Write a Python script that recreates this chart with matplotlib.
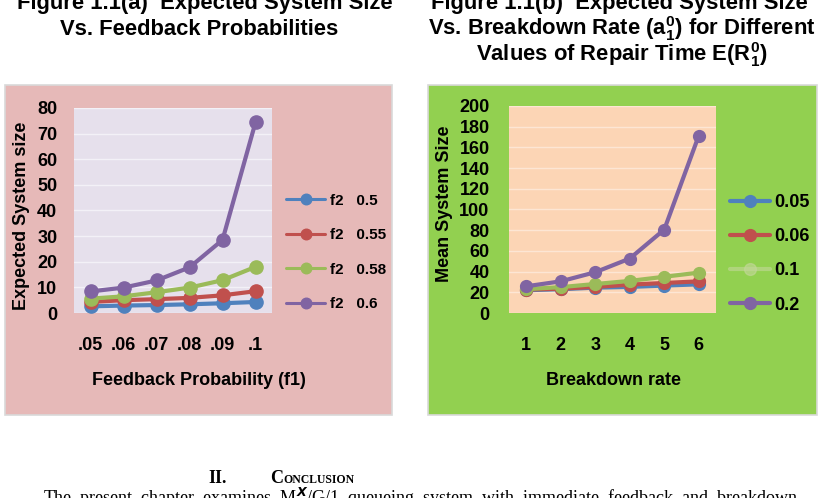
import matplotlib
matplotlib.use("Agg")
import matplotlib.pyplot as plt
from matplotlib.patches import Rectangle

plt.rcParams['font.family'] = ['Liberation Sans', 'DejaVu Sans']
plt.rcParams['font.weight'] = 'bold'
plt.rcParams['mathtext.fontset'] = 'custom'
plt.rcParams['mathtext.rm'] = 'Liberation Sans:bold'
plt.rcParams['mathtext.bf'] = 'Liberation Sans:bold'

# Figure 1.1(a) data
f1_labels = ['.05', '.06', '.07', '.08', '.09', '.1']
f2_names = ['f2   0.5', 'f2   0.55', 'f2   0.58', 'f2   0.6']
size_f2_05 = [2.6, 2.9, 3.1, 3.4, 3.8, 4.3]
size_f2_055 = [4.3, 5.0, 5.4, 5.9, 6.9, 8.5]
size_f2_058 = [5.6, 6.5, 8.1, 9.9, 12.8, 18.0]
size_f2_06 = [8.4, 9.9, 12.7, 17.8, 28.5, 74.4]

# Figure 1.1(b) data
rate_labels = ['1', '2', '3', '4', '5', '6']
repair_names = ['0.05', '0.06', '0.1', '0.2']
mean_r005 = [22.0, 23.0, 24.5, 25.2, 26.5, 27.7]
mean_r006 = [22.6, 23.5, 25.2, 27.4, 29.0, 30.6]
mean_r01 = [23.0, 25.0, 28.0, 31.0, 35.0, 39.0]
mean_r02 = [25.8, 30.6, 39.4, 52.6, 80.6, 171.3]

colors = ['#4F81BD', '#C0504D', '#9BBB59', '#8064A2']

W, H = 821, 498
fig = plt.figure(figsize=(W / 100, H / 100), dpi=100, facecolor='white')


def box(x0, y0, x1, y1):
    # pixel box (top-left origin) -> figure fraction rect
    return [x0 / W, 1 - y1 / H, (x1 - x0) / W, (y1 - y0) / H]


def panel(x0, y0, x1, y1, color):
    r = box(x0, y0, x1, y1)
    fig.patches.append(Rectangle((r[0], r[1]), r[2], r[3], transform=fig.transFigure,
                                 facecolor=color, edgecolor='#D9D9D9', lw=1.2, zorder=-5))


def txt(x, y, s, **kw):
    fig.text(x / W, 1 - y / H, s, **kw)


panel(5, 85, 392, 415, '#E6B9B8')
panel(428, 85, 817, 415, '#92D050')

# ---- left chart
ax1 = fig.add_axes(box(74, 108, 272, 313))
ax1.set_facecolor('#E6E0EC')
xs = range(len(f1_labels))
for vals, c, name in zip([size_f2_05, size_f2_055, size_f2_058, size_f2_06], colors, f2_names):
    ax1.plot(xs, vals, color=c, lw=3, marker='o', ms=9.5, label=name, solid_capstyle='round')
ax1.set_xlim(-0.5, 5.5)
ax1.set_ylim(0, 80)
ax1.set_yticks(range(0, 81, 10))
ax1.set_xticks(list(xs))
ax1.set_xticklabels(f1_labels)
ax1.tick_params(length=0, labelsize=13, pad=17)
ax1.tick_params(axis='y', pad=12)
ax1.yaxis.grid(True, color='#F3F1F7', lw=1)
ax1.set_axisbelow(True)
for s in ax1.spines.values():
    s.set_visible(False)
leg1 = ax1.legend(loc='center left', bbox_to_anchor=(1.0, 0.295), frameon=False,
                  fontsize=11, handlelength=2.6, labelspacing=1.35, handletextpad=0.3,
                  borderaxespad=0.5, markerscale=0.8)
for h in leg1.legend_handles:
    h.set_linewidth(2.2)

txt(21, 216, 'Expected System size', rotation=90, ha='center', va='center', fontsize=13)
txt(199, 380, 'Feedback Probability (f1)', ha='center', va='center', fontsize=13)

# ---- right chart
ax2 = fig.add_axes(box(509, 106, 716, 313))
ax2.set_facecolor('#FCD5B5')
xs2 = range(len(rate_labels))
for vals, c, name in zip([mean_r005, mean_r006, mean_r01, mean_r02], colors, repair_names):
    ax2.plot(xs2, vals, color=c, lw=3, marker='o', ms=8.5, label=name, solid_capstyle='round')
ax2.set_xlim(-0.5, 5.5)
ax2.set_ylim(0, 200)
ax2.set_yticks(range(0, 201, 20))
ax2.set_xticks(list(xs2))
ax2.set_xticklabels(rate_labels)
ax2.tick_params(length=0, labelsize=13, pad=17)
ax2.tick_params(axis='y', pad=14)
ax2.yaxis.grid(True, color='#FDE6D4', lw=1)
ax2.set_axisbelow(True)
for s in ax2.spines.values():
    s.set_visible(False)
leg2 = ax2.legend(loc='center left', bbox_to_anchor=(1.0, 0.286), frameon=False,
                  fontsize=13, handlelength=2.2, labelspacing=0.95, handletextpad=0.2,
                  borderaxespad=0.4, markerscale=1.0)
for h in leg2.legend_handles:
    h.set_linewidth(3)
leg2.legend_handles[2].set_color('#C4D79B')
leg2.legend_handles[2].set_alpha(0.6)

txt(444, 204, 'Mean System Size', rotation=90, ha='center', va='center', fontsize=13)
txt(613, 380, 'Breakdown rate', ha='center', va='center', fontsize=13)

# ---- titles (top line is cut by the page edge in the source)
tfs = 15.8
txt(205, 4, 'Figure 1.1(a)  Expected System Size', ha='center', va='center', fontsize=tfs)
txt(199, 29, 'Vs. Feedback Probabilities', ha='center', va='center', fontsize=tfs)
txt(619, 4, 'Figure 1.1(b)  Expected System Size', ha='center', va='center', fontsize=tfs)
txt(622, 29, r'Vs. Breakdown Rate (a$_{\mathbf{1}}^{\mathbf{0}}$) for Different',
    ha='center', va='center', fontsize=tfs)
txt(622, 55, r'Values of Repair Time E(R$_{\mathbf{1}}^{\mathbf{0}}$)',
    ha='center', va='center', fontsize=tfs)

# ---- section heading below the charts
serif = ['Liberation Serif', 'DejaVu Serif']
txt(208, 483, 'II.', family=serif, fontsize=13, ha='left', va='baseline')
txt(270, 483, 'C', family=serif, fontsize=13, ha='left', va='baseline')
txt(283, 483, 'ONCLUSION', family=serif, fontsize=8.5, ha='left', va='baseline')
txt(43, 504, r'The  present  chapter  examines  M$^{X}$/G/1  queueing  system  with  immediate  feedback  and  breakdown',
    family=serif, fontsize=13, fontweight='normal', ha='left', va='baseline')

fig.savefig('out.png', dpi=100)
